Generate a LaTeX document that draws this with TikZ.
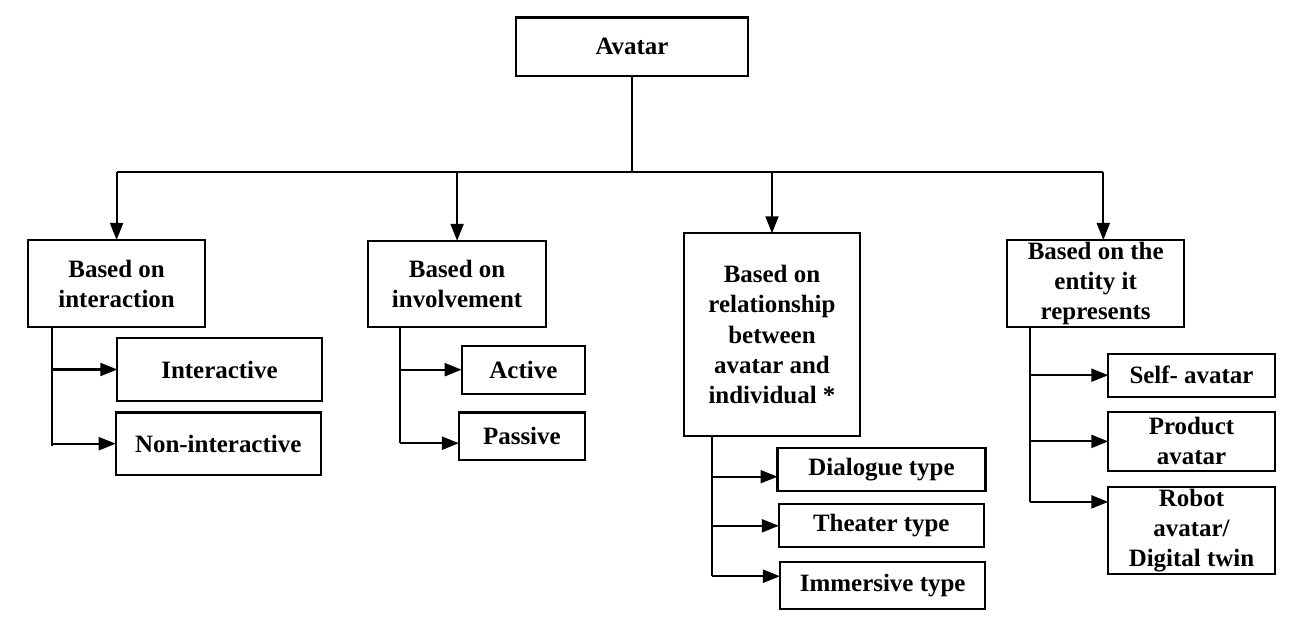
\documentclass[tikz,border=0pt]{standalone}
\usepackage{fontspec}
\setmainfont{Liberation Serif}
\usetikzlibrary{arrows.meta}
\tikzset{
  box/.style={draw, line width=1.2pt, align=center, inner sep=0pt, outer sep=0pt,
    font=\fontsize{14.2}{17.1}\selectfont\bfseries},
  link/.style={line width=1.2pt},
  arr/.style={link, -{Triangle[length=0.34cm,width=0.26cm]}}
}
\begin{document}
\begin{tikzpicture}[x=0.02cm,y=-0.02cm]
            \useasboundingbox (0,0) rectangle (1309,624);

            % draw root
            \node[box, minimum width=4.65cm, minimum height=1.17cm] (avatar) at (632,46.7) {Avatar};

            % draw categories
            \node[box, minimum width=3.55cm, minimum height=1.75cm] (interaction) at (116.6,283.7) {Based on\\interaction};
            \node[box, minimum width=3.55cm, minimum height=1.73cm] (involvement) at (457.1,284) {Based on\\involvement};
            \node[box, minimum width=3.53cm, minimum height=4.05cm] (relationship) at (772,334.5) {Based on\\relationship\\between\\avatar and\\individual *};
            \node[box, minimum width=3.55cm, minimum height=1.75cm] (entity) at (1095.7,283.7) {Based on the\\entity it\\represents};

            % draw types
            \node[box, minimum width=4.09cm, minimum height=1.25cm] (interactive) at (219.5,369.5) {Interactive};
            \node[box, minimum width=4.10cm, minimum height=1.25cm] (noninteractive) at (218.2,443.7) {Non-interactive};
            \node[box, minimum width=2.47cm, minimum height=0.96cm] (active) at (523.4,369.7) {Active};
            \node[box, minimum width=2.52cm, minimum height=0.95cm] (passive) at (521.9,436.2) {Passive};
            \node[box, minimum width=4.16cm, minimum height=0.86cm] (dialogue) at (881.5,469.2) {Dialogue type};
            \node[box, minimum width=4.10cm, minimum height=0.86cm] (theater) at (881.3,525.8) {Theater type};
            \node[box, minimum width=4.11cm, minimum height=0.95cm] (immersive) at (882.7,585.7) {Immersive type};
            \node[box, minimum width=3.33cm, minimum height=0.86cm] (self) at (1191.5,375.2) {Self- avatar};
            \node[box, minimum width=3.33cm, minimum height=1.17cm] (product) at (1191.5,441.4) {Product\\avatar};
            \node[box, minimum width=3.33cm, minimum height=1.75cm] (robot) at (1191.5,530.4) {Robot\\avatar/\\Digital twin};

            % draw main bar
            \coordinate (barL) at (116.6,171.7);
            \coordinate (barR) at (1103.3,171.7);
            \draw[link] (avatar.south) -- (avatar.south |- barL);
            \draw[link] (barL) -- (barR);
            \draw[arr] (interaction.north |- barL) -- (interaction.north);
            \draw[arr] (involvement.north |- barL) -- (involvement.north);
            \draw[arr] (relationship.north |- barL) -- (relationship.north);
            \draw[arr] (barR) -- (barR |- entity.north);

            % draw branches
            \coordinate (s1) at ([xshift=0.49cm]interaction.south west);
            \coordinate (e2) at ([yshift=-0.14cm]passive.west);
            \coordinate (s2) at ([xshift=0.63cm]involvement.south west);
            \coordinate (e3) at ([yshift=-0.15cm]dialogue.west);
            \coordinate (e5) at ([yshift=0.19cm]immersive.west);
            \coordinate (s3) at ([xshift=0.57cm]relationship.south west);
            \coordinate (e8) at ([yshift=0.57cm]robot.west);
            \coordinate (s4) at ([xshift=0.46cm]entity.south west);

            \draw[link] (s1) -- ([yshift=-0.05cm]s1 |- noninteractive.west);
            \draw[arr] (s1 |- interactive.west) -- (interactive.west);
            \draw[arr] (s1 |- noninteractive.west) -- (noninteractive.west);

            \draw[link] (s2) -- (s2 |- e2);
            \draw[arr] (s2 |- active.west) -- (active.west);
            \draw[arr] (s2 |- e2) -- (e2);

            \draw[link] (s3) -- (s3 |- e5);
            \draw[arr] (s3 |- e3) -- (e3);
            \draw[arr] (s3 |- theater.west) -- (theater.west);
            \draw[arr] (s3 |- e5) -- (e5);

            \draw[link] (s4) -- (s4 |- e8);
            \draw[arr] (s4 |- self.west) -- (self.west);
            \draw[arr] (s4 |- product.west) -- (product.west);
            \draw[arr] (s4 |- e8) -- (e8);
        \end{tikzpicture}
\end{document}
